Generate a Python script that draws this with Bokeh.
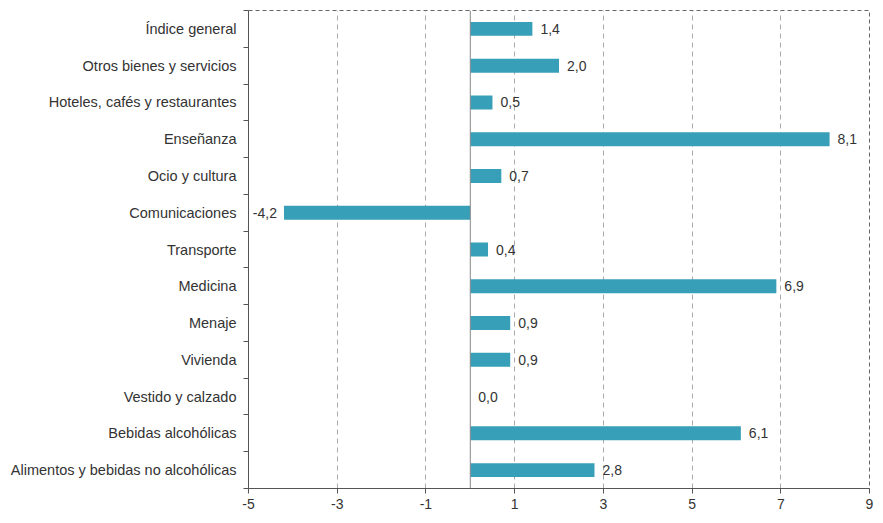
from bokeh.plotting import figure
from bokeh.models import FixedTicker, Span, ColumnDataSource, Range1d
from bokeh.core.properties import value
from bokeh.embed import file_html
from bokeh.resources import INLINE

categories = [
    "Alimentos y bebidas no alcohólicas",
    "Bebidas alcohólicas",
    "Vestido y calzado",
    "Vivienda",
    "Menaje",
    "Medicina",
    "Transporte",
    "Comunicaciones",
    "Ocio y cultura",
    "Enseñanza",
    "Hoteles, cafés y restaurantes",
    "Otros bienes y servicios",
    "Índice general",
]
values = [2.8, 6.1, 0.0, 0.9, 0.9, 6.9, 0.4, -4.2, 0.7, 8.1, 0.5, 2.0, 1.4]
x_ticks = [-5, -3, -1, 1, 3, 5, 7, 9]
x_tick_labels = ["-5", "-3", "-1", "1", "3", "5", "7", "9"]

FONT = "Liberation Sans"
BAR = "#389FB9"
TXT = "#333333"

ypos = list(range(len(categories)))
labels = [("%.1f" % v).replace(".", ",") for v in values]

pos_idx = [i for i, v in enumerate(values) if v >= 0]
neg_idx = [i for i, v in enumerate(values) if v < 0]

src = ColumnDataSource(dict(y=ypos, v=values, lab=labels))
pos_src = ColumnDataSource(dict(y=[ypos[i] for i in pos_idx], v=[values[i] for i in pos_idx],
                                lab=[labels[i] for i in pos_idx]))
neg_src = ColumnDataSource(dict(y=[ypos[i] for i in neg_idx], v=[values[i] for i in neg_idx],
                                lab=[labels[i] for i in neg_idx]))

p = figure(width=875, height=515, output_backend="svg", toolbar_location=None,
           x_range=Range1d(-5, 9), y_range=Range1d(-0.5, len(categories) - 0.5),
           min_border_left=248, min_border_right=6, min_border_top=10, min_border_bottom=27)

p.background_fill_color = "white"
p.border_fill_color = "white"
p.outline_line_color = "#666666"
p.outline_line_dash = "4 3"
p.outline_line_width = 1

# grid
p.xgrid.ticker = FixedTicker(ticks=x_ticks)
p.xgrid.grid_line_color = "#aaaaaa"
p.xgrid.grid_line_dash = "5 4"
p.ygrid.grid_line_color = None

# zero line
p.add_layout(Span(location=0, dimension="height", line_color="#888888", line_width=1))

p.hbar(y="y", right="v", left=0, height=0.38, source=src, color=BAR, line_color=None)

p.text(x="v", y="y", text="lab", source=pos_src, x_offset=8, text_baseline="middle",
       text_align="left", text_font=value(FONT), text_font_size="14px", text_color=TXT)
p.text(x="v", y="y", text="lab", source=neg_src, x_offset=-7, text_baseline="middle",
       text_align="right", text_font=value(FONT), text_font_size="14px", text_color=TXT)

# x axis
xa = p.xaxis[0]
xa.ticker = FixedTicker(ticks=x_ticks)
xa.major_label_overrides = {t: l for t, l in zip(x_ticks, x_tick_labels)}
xa.axis_line_color = "#555555"
xa.major_tick_line_color = "#555555"
xa.major_tick_out = 5
xa.major_tick_in = 0
xa.minor_tick_line_color = None
xa.major_label_text_font = FONT
xa.major_label_text_font_size = "14px"
xa.major_label_text_color = TXT
xa.major_label_standoff = 5

# y axis
ya = p.yaxis[0]
ya.ticker = FixedTicker(ticks=ypos, minor_ticks=[i + 0.5 for i in range(-1, len(categories))])
ya.major_label_overrides = {i: c for i, c in enumerate(categories)}
ya.major_tick_line_color = None
ya.minor_tick_line_color = "#555555"
ya.minor_tick_out = 5
ya.minor_tick_in = 0
ya.axis_line_color = "#555555"
ya.major_label_text_font = FONT
ya.major_label_text_font_size = "14.5px"
ya.major_label_text_color = TXT
ya.major_label_standoff = 6

open("out.html", "w").write(file_html(p, INLINE))
